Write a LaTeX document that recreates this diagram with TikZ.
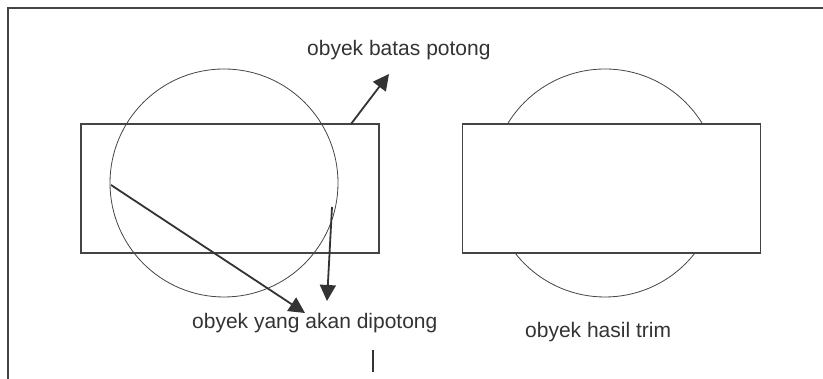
\documentclass[tikz,border=0pt]{standalone}
\usepackage{fontspec}
\setmainfont{Liberation Sans}
\usetikzlibrary{arrows.meta}
\definecolor{ink}{HTML}{333333}
\definecolor{rim}{HTML}{444444}
\begin{document}
\begin{tikzpicture}[x=1pt,y=1pt,
  box/.style={draw=rim,line width=1.2pt,minimum width=298pt,minimum height=129pt,inner sep=0pt},
  ring/.style={draw=rim,line width=0.8pt,circle,minimum size=228pt,inner sep=0pt},
  label/.style={text=ink,font=\fontsize{21}{25}\selectfont,inner sep=0pt,anchor=base west},
  pointer/.style={draw=ink,line width=1.8pt,-{Triangle[length=16pt,width=16pt]}},
  frame/.style={draw=rim,line width=1.8pt}]
\useasboundingbox (0,0) rectangle (823,379);
% frame
\coordinate (ftl) at (8,371);
\coordinate (ftr) at (823,371);
\coordinate (fbl) at (8,0);
\draw[frame] (ftr) -- (ftl) -- (fbl);
% left object
\node[box] (lrect) at (230,190.5) {};
\node[ring] (lcirc) at (224,196) {};
% right object
\node[box] (rrect) at (611.5,190.5) {};
\begin{scope}[even odd rule]
  \clip (0,0) rectangle (823,379) (462,126) rectangle (761,255);
  \node[ring] (rcirc) at (605,196) {};
\end{scope}
% labels
\node[label] (tbatas) at (307,323) {obyek batas potong};
\node[label] (tyang) at (192,50) {obyek yang akan dipotong};
\node[label] (thasil) at (525,41) {obyek hasil trim};
% arrows
\coordinate (a1s) at (351,255);
\coordinate (a1e) at (389,305);
\coordinate (a2s) at (111,194);
\coordinate (a2e) at (305,66);
\coordinate (a3s) at (332,172);
\coordinate (a3e) at (327,78);
\draw[pointer] (a1s) -- (a1e);
\draw[pointer] (a2s) -- (a2e);
\draw[pointer] (a3s) -- (a3e);
% small tick
\coordinate (tk1) at (373,29);
\coordinate (tk2) at (373,7);
\draw[draw=ink,line width=1.2pt] (tk1) -- (tk2);
\end{tikzpicture}
\end{document}
